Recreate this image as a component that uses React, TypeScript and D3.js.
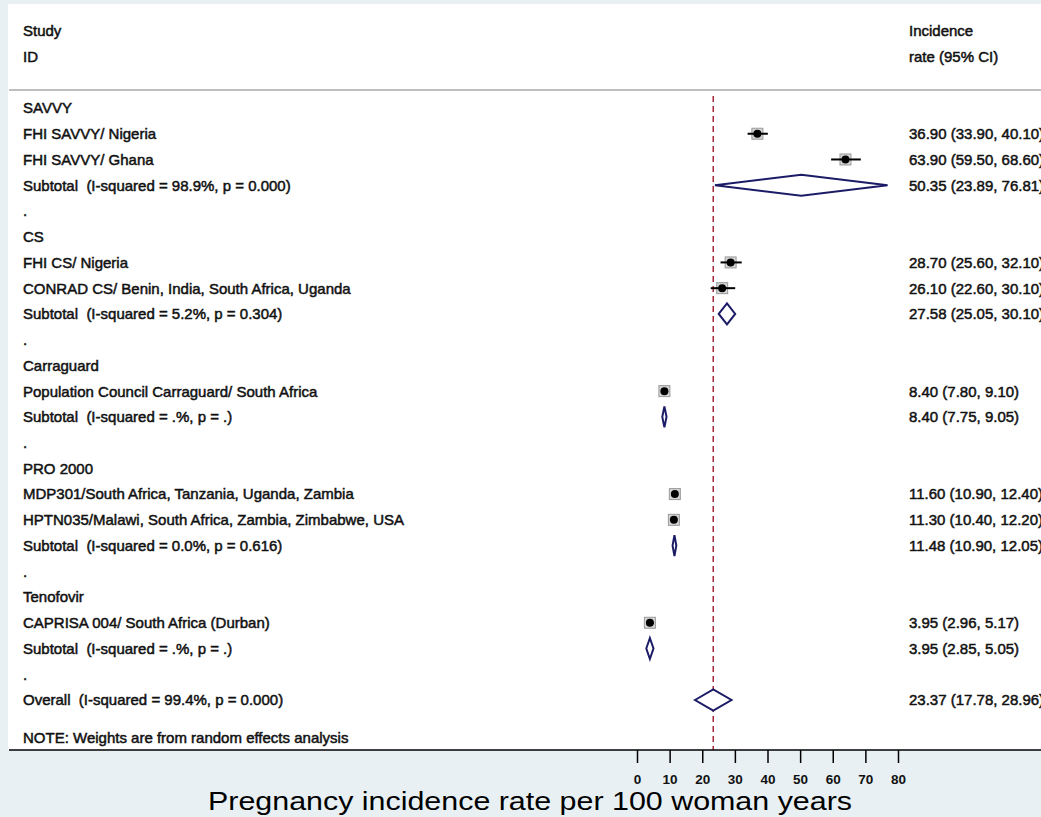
import { useEffect, useRef } from "react";
import * as d3 from "d3";

// groups of studies (meta-analysis of pregnancy incidence)
const groupNames = ["SAVVY", "CS", "Carraguard", "PRO 2000", "Tenofovir"];

const studyLabels = [
  ["FHI SAVVY/ Nigeria", "FHI SAVVY/ Ghana"],
  ["FHI CS/ Nigeria", "CONRAD CS/ Benin, India, South Africa, Uganda"],
  ["Population Council Carraguard/ South Africa"],
  [
    "MDP301/South Africa, Tanzania, Uganda, Zambia",
    "HPTN035/Malawi, South Africa, Zambia, Zimbabwe, USA",
  ],
  ["CAPRISA 004/ South Africa (Durban)"],
];
const studyEst = [[36.9, 63.9], [28.7, 26.1], [8.4], [11.6, 11.3], [3.95]];
const studyLo = [[33.9, 59.5], [25.6, 22.6], [7.8], [10.9, 10.4], [2.96]];
const studyHi = [[40.1, 68.6], [32.1, 30.1], [9.1], [12.4, 12.2], [5.17]];

const subtotalLabels = [
  "Subtotal  (I-squared = 98.9%, p = 0.000)",
  "Subtotal  (I-squared = 5.2%, p = 0.304)",
  "Subtotal  (I-squared = .%, p = .)",
  "Subtotal  (I-squared = 0.0%, p = 0.616)",
  "Subtotal  (I-squared = .%, p = .)",
];
const subtotalEst = [50.35, 27.58, 8.4, 11.48, 3.95];
const subtotalLo = [23.89, 25.05, 7.75, 10.9, 2.85];
const subtotalHi = [76.81, 30.1, 9.05, 12.05, 5.05];

const overallLabel = "Overall  (I-squared = 99.4%, p = 0.000)";
const overallEst = 23.37;
const overallLo = 17.78;
const overallHi = 28.96;

const xTicks = [0, 10, 20, 30, 40, 50, 60, 70, 80];

const W = 1041;
const H = 817;
const FONT = "'Liberation Sans', Arial, sans-serif";
const NAVY = "#1b1b66";

function fmt(est: number, lo: number, hi: number) {
  return `${est.toFixed(2)} (${lo.toFixed(2)}, ${hi.toFixed(2)})`;
}

function ForestPlot() {
  const ref = useRef<SVGSVGElement>(null);

  useEffect(() => {
    const svg = d3.select(ref.current);
    svg.selectAll("*").remove();

    // build the row list
    type Row = { kind: string; label: string; est?: number; lo?: number; hi?: number };
    const rows: Row[] = [];
    groupNames.forEach((g, gi) => {
      rows.push({ kind: "group", label: g });
      studyLabels[gi].forEach((s, si) => {
        rows.push({
          kind: "study",
          label: s,
          est: studyEst[gi][si],
          lo: studyLo[gi][si],
          hi: studyHi[gi][si],
        });
      });
      rows.push({
        kind: "subtotal",
        label: subtotalLabels[gi],
        est: subtotalEst[gi],
        lo: subtotalLo[gi],
        hi: subtotalHi[gi],
      });
      rows.push({ kind: "blank", label: "." });
    });
    rows.push({ kind: "subtotal", label: overallLabel, est: overallEst, lo: overallLo, hi: overallHi });

    const x = d3.scaleLinear().domain([0, 80]).range([637, 898]);
    const y = d3
      .scaleLinear()
      .domain([0, rows.length - 1])
      .range([108, 700]);

    // backgrounds
    svg.append("rect").attr("width", W).attr("height", H).attr("fill", "#e8f0f3");
    svg
      .append("rect")
      .attr("x", 8)
      .attr("y", 4)
      .attr("width", W)
      .attr("height", 746)
      .attr("fill", "#ffffff");

    svg
      .append("line")
      .attr("x1", 9)
      .attr("x2", W)
      .attr("y1", 90)
      .attr("y2", 90)
      .attr("stroke", "#a8a8a8")
      .attr("stroke-width", 1.5);

    const txt = (tx: number, ty: number, s: string) =>
      svg
        .append("text")
        .attr("x", tx)
        .attr("y", ty)
        .attr("dy", "0.36em")
        .attr("font-family", FONT)
        .attr("font-size", 15)
        .attr("fill", "#111")
        .attr("stroke", "#111")
        .attr("stroke-width", 0.5)
        .style("white-space", "pre")
        .text(s);

    txt(23, 31, "Study");
    txt(23, 57, "ID");
    txt(909, 31, "Incidence");
    txt(909, 57, "rate (95% CI)");

    // reference line at overall estimate
    svg
      .append("line")
      .attr("x1", x(overallEst))
      .attr("x2", x(overallEst))
      .attr("y1", 96)
      .attr("y2", 750)
      .attr("stroke", "#a3283a")
      .attr("stroke-width", 1.5)
      .attr("stroke-dasharray", "6,4");

    rows.forEach((r, i) => {
      const ry = y(i);
      txt(23, ry, r.label);
      if (r.est === undefined) return;
      txt(909, ry, fmt(r.est, r.lo!, r.hi!));
      if (r.kind === "study") {
        svg
          .append("rect")
          .attr("x", x(r.est) - 5.5)
          .attr("y", ry - 5.5)
          .attr("width", 11)
          .attr("height", 11)
          .attr("fill", "#d4d4d4")
          .attr("stroke", "#9a9a9a")
          .attr("stroke-width", 1);
        svg
          .append("line")
          .attr("x1", x(r.lo!))
          .attr("x2", x(r.hi!))
          .attr("y1", ry)
          .attr("y2", ry)
          .attr("stroke", "#000")
          .attr("stroke-width", 2);
        svg
          .append("circle")
          .attr("cx", x(r.est))
          .attr("cy", ry)
          .attr("r", 4)
          .attr("fill", "#000");
      } else {
        const h = 10.5;
        const pts: [number, number][] = [
          [x(r.lo!), ry],
          [x(r.est), ry - h],
          [x(r.hi!), ry],
          [x(r.est), ry + h],
        ];
        svg
          .append("path")
          .attr("d", d3.line()(pts) + "Z")
          .attr("fill", "#fff")
          .attr("stroke", NAVY)
          .attr("stroke-width", 2)
          .attr("stroke-linejoin", "miter");
      }
    });

    txt(23, 738, "NOTE: Weights are from random effects analysis");

    // bottom frame line
    svg
      .append("line")
      .attr("x1", 9)
      .attr("x2", W)
      .attr("y1", 750)
      .attr("y2", 750)
      .attr("stroke", "#000")
      .attr("stroke-width", 1.5);

    // axis
    const axis = svg
      .append("g")
      .attr("transform", "translate(0,750)")
      .call(d3.axisBottom(x).tickValues(xTicks).tickSize(13).tickPadding(11));
    axis.select(".domain").remove();
    axis.selectAll(".tick line").attr("stroke", "#000").attr("stroke-width", 1.5);
    axis
      .selectAll(".tick text")
      .attr("font-family", FONT)
      .attr("font-size", 13.5)
      .attr("font-weight", "bold")
      .attr("fill", "#111");

    svg
      .append("text")
      .attr("x", 208)
      .attr("y", 810)
      .attr("font-family", FONT)
      .attr("font-size", 25)
      .attr("textLength", 644)
      .attr("lengthAdjust", "spacingAndGlyphs")
      .attr("fill", "#000")
      .text("Pregnancy incidence rate per 100 woman years");
  }, []);

  return (
    <svg
      ref={ref}
      width={W}
      height={H}
      style={{ position: "absolute", left: 0, top: 0, display: "block" }}
    />
  );
}

export default function App() {
  return <ForestPlot />;
}
